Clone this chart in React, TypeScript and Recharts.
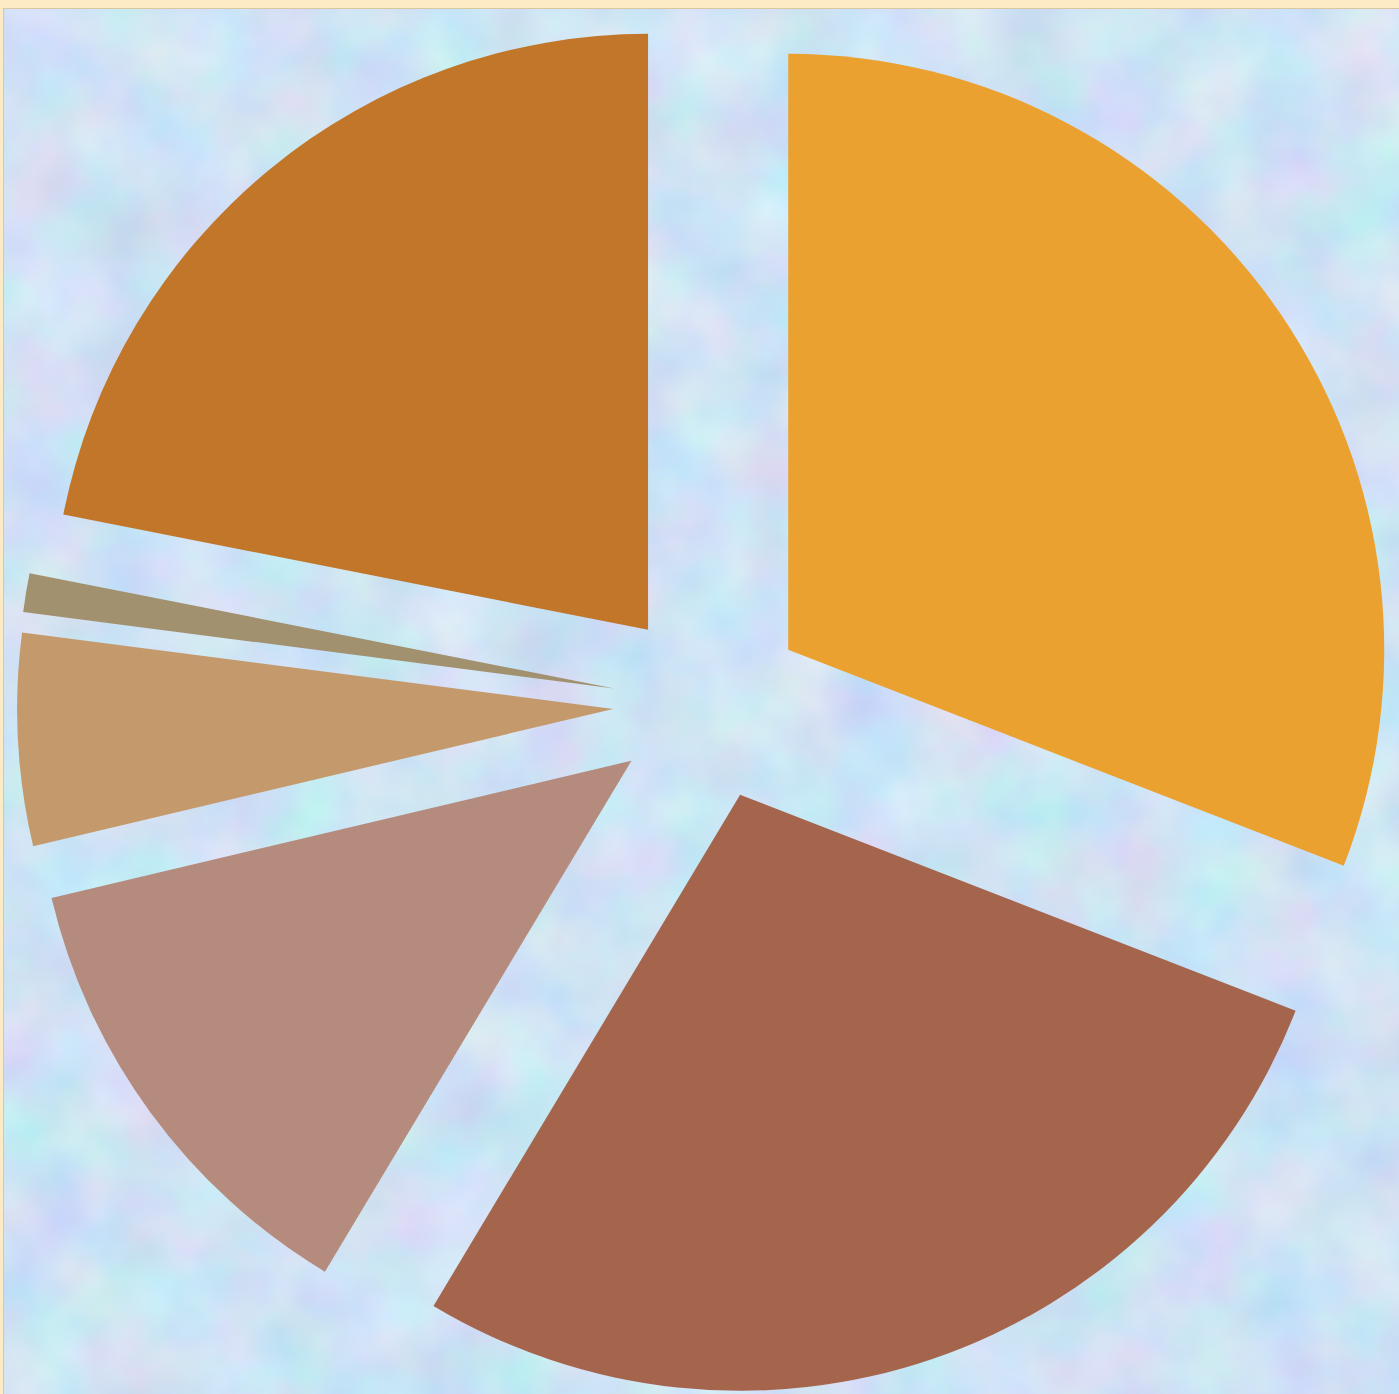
import React from "react";
import { PieChart, Pie, Sector, Cell } from "recharts";

const sliceNames = ["A", "B", "C", "D", "E", "F"];
const sliceValues = [30.9, 27.7, 12.7, 5.75, 1.05, 21.9];
const sliceColors = ["#EBA12F", "#A5654D", "#B58B7E", "#C49A6C", "#A1916F", "#C27629"];

const data = sliceNames.map((name, i) => ({ name, value: sliceValues[i] }));

const RADIAN = Math.PI / 180;
const EXPLODE = 96;

function ExplodedSlice(props: any) {
  const { cx, cy, midAngle, innerRadius, outerRadius, startAngle, endAngle, fill } = props;
  const dx = EXPLODE * Math.cos(-midAngle * RADIAN);
  const dy = EXPLODE * Math.sin(-midAngle * RADIAN);
  return (
    <Sector
      cx={cx + dx}
      cy={cy + dy}
      innerRadius={innerRadius}
      outerRadius={outerRadius}
      startAngle={startAngle}
      endAngle={endAngle}
      fill={fill}
      stroke="none"
    />
  );
}

export default function App() {
  return (
    <div
      style={{
        position: "fixed",
        left: 0,
        top: 0,
        width: 1399,
        height: 1394,
        background: "#FCEBC4",
        overflow: "hidden",
      }}
    >
      <svg
        width={1396}
        height={1386}
        style={{ position: "absolute", left: 3, top: 8 }}
      >
        <defs>
          <filter
            id="noise"
            x="0"
            y="0"
            width="100%"
            height="100%"
            colorInterpolationFilters="sRGB"
          >
            <feTurbulence type="fractalNoise" baseFrequency="0.012" numOctaves={3} seed={7} />
            <feColorMatrix
              type="matrix"
              values="0.22 0 0 0 0.70  0 0.15 0 0 0.815  0 0 0.08 0 0.92  0 0 0 0 1"
            />
          </filter>
        </defs>
        <rect x={0} y={0} width={1396} height={1386} fill="#D4E4F8" />
        <rect x={1} y={1} width={1395} height={1385} filter="url(#noise)" />
        <line x1={0.5} y1={0} x2={0.5} y2={1386} stroke="#D8C7A0" />
        <line x1={0} y1={0.5} x2={1396} y2={0.5} stroke="#D8C7A0" />
      </svg>
      <div style={{ position: "absolute", left: 0, top: 0 }}>
        <PieChart width={1399} height={1394} margin={{ top: 0, right: 0, bottom: 0, left: 0 }}>
          <Pie
            data={data}
            dataKey="value"
            nameKey="name"
            cx={709}
            cy={704}
            innerRadius={0}
            outerRadius={596}
            startAngle={90}
            endAngle={-270}
            stroke="none"
            shape={ExplodedSlice}
            isAnimationActive={false}
          >
            {data.map((d, i) => (
              <Cell key={d.name} fill={sliceColors[i]} />
            ))}
          </Pie>
        </PieChart>
      </div>
    </div>
  );
}
